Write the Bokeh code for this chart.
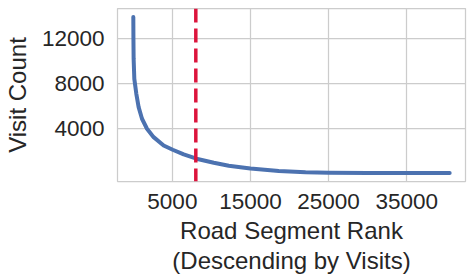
from bokeh.plotting import figure
from bokeh.models import ColumnDataSource, Span, FixedTicker, Range1d, NumeralTickFormatter
from bokeh.embed import file_html
from bokeh.resources import INLINE

# Data
rank = [0, 15, 40, 128, 385, 680, 1110, 1750, 2600, 3880, 5040, 6450, 8080,
        10300, 12220, 13720, 15000, 18630, 22050, 25000, 30000, 35000, 40500]
visits = [13900, 11950, 10170, 8390, 7060, 5870, 4840, 3950, 3200, 2460, 2080, 1660, 1280,
          920, 650, 520, 400, 190, 70, 30, 15, 8, 3]
threshold_rank = 8000
x_ticks = [5000, 15000, 25000, 35000]
y_ticks = [4000, 8000, 12000]
x_label = "Road Segment Rank\n(Descending by Visits)"
y_label = "Visit Count"

FONT = "Liberation Sans"
TEXT = "#262626"
GRID = "#cccccc"

W, H = 473, 280
p = figure(width=W, height=H, output_backend="svg", toolbar_location=None,
           x_range=Range1d(-2025, 42525), y_range=Range1d(-750, 14660),
           min_border_left=117, min_border_right=8, min_border_top=8, min_border_bottom=99)
p.background_fill_color = "white"
p.border_fill_color = "white"
p.outline_line_color = GRID
p.outline_line_width = 1.25

src = ColumnDataSource(data=dict(rank=rank, visits=visits))
p.line("rank", "visits", source=src, line_color="#4C72B0", line_width=4, line_join="round", line_cap="round")

p.add_layout(Span(location=threshold_rank, dimension="height", line_color="#DC143C",
                  line_width=3.5, line_dash="14 6"))

for ax in (p.xaxis[0], p.yaxis[0]):
    ax.axis_line_color = None
    ax.major_tick_line_color = None
    ax.minor_tick_line_color = None
    ax.major_tick_out = 0
    ax.major_tick_in = 0
    ax.minor_tick_out = 0
    ax.major_label_text_font = FONT
    ax.major_label_text_font_size = "22.5px"
    ax.major_label_text_color = TEXT
    ax.axis_label_text_font = FONT
    ax.axis_label_text_font_size = "24px"
    ax.axis_label_text_color = TEXT
    ax.axis_label_text_font_style = "normal"
    ax.formatter = NumeralTickFormatter(format="0")

p.xaxis.ticker = FixedTicker(ticks=x_ticks)
p.yaxis.ticker = FixedTicker(ticks=y_ticks)
p.xaxis.axis_label = x_label
p.yaxis.axis_label = y_label
p.xaxis.axis_label_text_line_height = 1.12
p.xaxis.major_label_standoff = 12
p.yaxis.major_label_standoff = 13
p.xaxis.axis_label_standoff = 5
p.yaxis.axis_label_standoff = 8

p.xgrid.ticker = FixedTicker(ticks=x_ticks)
p.ygrid.ticker = FixedTicker(ticks=y_ticks)
p.grid.grid_line_color = GRID
p.grid.grid_line_width = 1.25

open("out.html", "w").write(file_html(p, INLINE))
